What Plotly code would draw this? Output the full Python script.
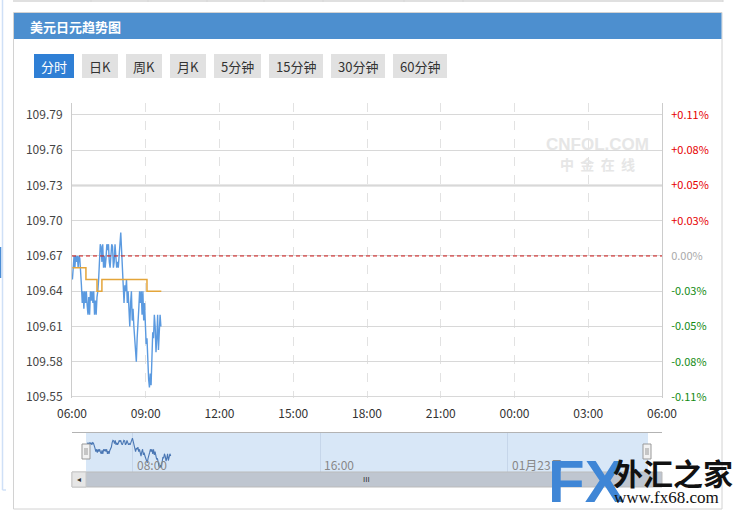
import datetime as dt
import plotly.graph_objects as go

# ---------------- data ----------------
title_text = "美元日元趋势图"
button_labels = ["分时", "日K", "周K", "月K", "5分钟", "15分钟", "30分钟", "60分钟"]

day = "2018-01-22"
next_day = "2018-01-23"

# minute-of-session (minutes after 06:00) for the intraday price series
price_minutes = list(range(1, 218, 2))
prices = [
    109.650, 109.665, 109.670, 109.660, 109.670, 109.665, 109.670, 109.660, 109.670, 109.668,
    109.660,
    109.645, 109.630, 109.640, 109.625, 109.640, 109.630, 109.640, 109.628, 109.620, 109.635,
    109.620, 109.640, 109.632, 109.640, 109.630, 109.640, 109.620, 109.632, 109.620, 109.635,
    109.640,
    109.650, 109.670, 109.680, 109.678, 109.665, 109.680, 109.660, 109.670, 109.660, 109.668,
    109.680, 109.675, 109.680, 109.665, 109.660, 109.670, 109.680, 109.678, 109.660, 109.665,
    109.680, 109.670, 109.660, 109.665, 109.660, 109.670, 109.682, 109.690, 109.675, 109.660,
    109.645,
    109.630, 109.645, 109.640, 109.650, 109.630, 109.640, 109.620, 109.610, 109.630, 109.640,
    109.615, 109.625, 109.610, 109.600, 109.585, 109.580, 109.600, 109.620, 109.625, 109.640,
    109.630, 109.640, 109.620, 109.640, 109.615, 109.630, 109.610, 109.595, 109.600, 109.575,
    109.565, 109.558, 109.570, 109.560, 109.590, 109.605, 109.600, 109.620, 109.610, 109.588,
    109.600, 109.620, 109.590, 109.612, 109.620, 109.610,
]

avg_times = ["06:01", "06:34", "07:01", "07:13", "09:03", "09:38"]
avg_values = [109.66, 109.65, 109.64, 109.65, 109.64, 109.64]

left_ticks = [109.55, 109.58, 109.61, 109.64, 109.67, 109.70, 109.73, 109.76, 109.79]
right_labels = ["-0.11%", "-0.08%", "-0.05%", "-0.03%", "0.00%",
                "+0.03%", "+0.05%", "+0.08%", "+0.11%"]
prev_close = 109.67
x_tick_labels = ["06:00", "09:00", "12:00", "15:00", "18:00", "21:00", "00:00", "03:00", "06:00"]
nav_labels = [("08:00", f"{day} 08:00"), ("16:00", f"{day} 16:00"), ("01月23日", f"{next_day} 00:00")]

# ---------------- helpers ----------------
W, H = 739, 513
FONT = "Noto Sans CJK SC, Noto Sans, Liberation Sans, sans-serif"


def fx(p):
    return p / W


def fy(p):
    return 1 - p / H


start = dt.datetime(2018, 1, 22, 6, 0)
price_times = [start + dt.timedelta(minutes=m) for m in price_minutes]
avg_x = [f"{day} {t}:00" for t in avg_times]
x_range = [f"{day} 06:00", f"{next_day} 06:00"]
x_tickvals = [start + dt.timedelta(hours=3 * i) for i in range(len(x_tick_labels))]

y_range = [109.5491, 109.8002]


def color_pct(s):
    if s.startswith("+"):
        c = "#e60000"
    elif s.startswith("-"):
        c = "#138a13"
    else:
        c = "#aaaaaa"
    return f"<span style='color:{c}'>{s}</span>"


fig = go.Figure()

fig.add_trace(go.Scatter(x=price_times, y=prices, mode="lines",
                         line=dict(color="#5b9ae0", width=1.4),
                         xaxis="x", yaxis="y", hoverinfo="skip", showlegend=False))
fig.add_trace(go.Scatter(x=avg_x, y=avg_values, mode="lines", line_shape="hv",
                         line=dict(color="#e4a53a", width=1.5),
                         xaxis="x", yaxis="y", hoverinfo="skip", showlegend=False))
# invisible trace to anchor the right-hand percent axis
fig.add_trace(go.Scatter(x=[price_times[0]], y=[prev_close], mode="markers",
                         marker=dict(opacity=0), xaxis="x", yaxis="y2",
                         hoverinfo="skip", showlegend=False))
# navigator series
fig.add_trace(go.Scatter(x=price_times, y=prices, mode="lines",
                         line=dict(color="#4a77b4", width=1.1),
                         xaxis="x3", yaxis="y3", hoverinfo="skip", showlegend=False))

shapes = []
annotations = []

# outer page decorations
shapes.append(dict(type="line", xref="paper", yref="paper", x0=fx(13), x1=fx(723), y0=fy(1), y1=fy(1),
                   line=dict(color="#d6d6d6", width=1.5)))
for vx in [91, 148, 207, 264, 323, 404, 463, 723]:
    shapes.append(dict(type="line", xref="paper", yref="paper", x0=fx(vx), x1=fx(vx), y0=fy(0), y1=fy(2),
                       line=dict(color="#d6d6d6", width=1)))
shapes.append(dict(type="line", xref="paper", yref="paper", x0=fx(2.5), x1=fx(2.5), y0=fy(0), y1=fy(490),
                   line=dict(color="#cfe0f7", width=1.5)))
shapes.append(dict(type="line", xref="paper", yref="paper", x0=fx(2.5), x1=fx(6), y0=fy(490), y1=fy(490),
                   line=dict(color="#cfe0f7", width=1.5)))
shapes.append(dict(type="line", xref="paper", yref="paper", x0=fx(0.5), x1=fx(0.5), y0=fy(247), y1=fy(278),
                   line=dict(color="#4a8dd6", width=1.5)))

# panel border and title bar
shapes.append(dict(type="rect", xref="paper", yref="paper", x0=fx(13.5), x1=fx(722), y0=fy(12.5), y1=fy(509),
                   line=dict(color="#d2d2d2", width=1), fillcolor="rgba(0,0,0,0)", layer="below"))
shapes.append(dict(type="rect", xref="paper", yref="paper", x0=fx(14), x1=fx(721.5), y0=fy(13), y1=fy(39),
                   line=dict(width=0), fillcolor="#4d8fcf", layer="below"))
annotations.append(dict(x=fx(28), y=fy(26), xref="paper", yref="paper", text=f"<b>{title_text}</b>",
                        showarrow=False, xanchor="left", yanchor="middle",
                        font=dict(family=FONT, size=13, color="white")))

# buttons
button_spans = [(34, 74), (82, 118), (126, 162), (170, 206), (214, 261), (269, 323), (331, 385), (393, 447)]
for i, (lab, (bx0, bx1)) in enumerate(zip(button_labels, button_spans)):
    active = i == 0
    shapes.append(dict(type="rect", xref="paper", yref="paper", x0=fx(bx0), x1=fx(bx1), y0=fy(54), y1=fy(78),
                       line=dict(width=0), fillcolor="#2f7fd5" if active else "#e1e1e1", layer="below"))
    annotations.append(dict(x=fx((bx0 + bx1) / 2), y=fy(66), xref="paper", yref="paper", text=lab,
                            showarrow=False, xanchor="center", yanchor="middle",
                            font=dict(family=FONT, size=13, color="white" if active else "#333333")))

# thicker line at 109.73 (as in reference)
shapes.append(dict(type="line", xref="x", yref="y", x0=x_range[0], x1=x_range[1], y0=109.73, y1=109.73,
                   line=dict(color="#d0d0d0", width=2), layer="below"))
# previous close dashed line
shapes.append(dict(type="line", xref="x", yref="y", x0=x_range[0], x1=x_range[1], y0=prev_close, y1=prev_close,
                   line=dict(color="#cc1111", width=1, dash="4px,3px")))

# CNFOL watermark
annotations.append(dict(x=fx(597), y=fy(144), xref="paper", yref="paper", text="<b>CNFOL.COM</b>",
                        showarrow=False, xanchor="center", yanchor="middle",
                        font=dict(family="Liberation Sans", size=17, color="#e6e6e6")))
annotations.append(dict(x=fx(597), y=fy(164), xref="paper", yref="paper", text="<b>中  金  在  线</b>",
                        showarrow=False, xanchor="center", yanchor="middle",
                        font=dict(family=FONT, size=14, color="#e6e6e6")))

# navigator
shapes.append(dict(type="rect", xref="paper", yref="paper", x0=fx(86), x1=fx(648), y0=fy(432), y1=fy(472),
                   line=dict(width=0), fillcolor="#d8e7f7", layer="below"))
shapes.append(dict(type="line", xref="paper", yref="paper", x0=fx(72), x1=fx(662), y0=fy(432.5), y1=fy(432.5),
                   line=dict(color="#b3b3b3", width=1)))
# scrollbar
shapes.append(dict(type="rect", xref="paper", yref="paper", x0=fx(72), x1=fx(662), y0=fy(472), y1=fy(487),
                   line=dict(color="#bbbbbb", width=1), fillcolor="#bfc6d0"))
shapes.append(dict(type="rect", xref="paper", yref="paper", x0=fx(72), x1=fx(86), y0=fy(472), y1=fy(487),
                   line=dict(color="#c8c8c8", width=1), fillcolor="#e6e6e6"))
annotations.append(dict(x=fx(79), y=fy(479.5), xref="paper", yref="paper", text="◂",
                        showarrow=False, xanchor="center", yanchor="middle",
                        font=dict(family="DejaVu Sans", size=8, color="#333333")))
annotations.append(dict(x=fx(366), y=fy(479.5), xref="paper", yref="paper", text="III",
                        showarrow=False, xanchor="center", yanchor="middle",
                        font=dict(family="Liberation Sans", size=8, color="#333333")))
# handles
for hx in (82, 643):
    shapes.append(dict(type="rect", xref="paper", yref="paper", x0=fx(hx), x1=fx(hx + 8), y0=fy(444), y1=fy(459),
                       line=dict(color="#999999", width=1), fillcolor="#f2f2f2"))
    for lx in (hx + 3, hx + 5):
        shapes.append(dict(type="line", xref="paper", yref="paper", x0=fx(lx), x1=fx(lx), y0=fy(448), y1=fy(455),
                           line=dict(color="#999999", width=1)))
for lab, t in nav_labels:
    annotations.append(dict(x=t, y=fy(464), xref="x3", yref="paper", text=lab, showarrow=False,
                            xanchor="left", yanchor="middle", xshift=2,
                            font=dict(family=FONT, size=12, color="#888888")))

# FX68 watermark
annotations.append(dict(x=fx(546), y=fy(481), xref="paper", yref="paper", text="<b>FX</b>",
                        showarrow=False, xanchor="left", yanchor="middle",
                        font=dict(family="Liberation Sans", size=60, color="#3f86d6")))
annotations.append(dict(x=fx(611), y=fy(472), xref="paper", yref="paper", text="<b>外汇之家</b>",
                        showarrow=False, xanchor="left", yanchor="middle",
                        font=dict(family=FONT, size=30, color="#111111")))
annotations.append(dict(x=fx(612), y=fy(497), xref="paper", yref="paper", text="www.fx68.com",
                        showarrow=False, xanchor="left", yanchor="middle",
                        font=dict(family="Liberation Serif", size=17, color="#111111")))

fig.update_layout(
    template="none",
    width=W, height=H, autosize=False,
    margin=dict(l=0, r=0, t=0, b=0, pad=0),
    paper_bgcolor="white", plot_bgcolor="rgba(0,0,0,0)",
    showlegend=False,
    font=dict(family=FONT, size=12, color="#333333"),
    xaxis=dict(domain=[fx(72), fx(662)], anchor="y", type="date", range=x_range, automargin=False,
               tickvals=x_tickvals, ticktext=x_tick_labels,
               showgrid=True, gridcolor="#e2e2e2", griddash="dash", gridwidth=1,
               zeroline=False, showline=False,
               ticks="outside", ticklen=5, tickcolor="rgba(0,0,0,0)",
               tickfont=dict(family=FONT, size=12, color="#333333")),
    yaxis=dict(domain=[fy(398), fy(103)], anchor="x", range=y_range, automargin=False,
               tickvals=left_ticks, ticktext=[f"{v:.2f}" for v in left_ticks],
               showgrid=True, gridcolor="#d8d8d8", gridwidth=1, zeroline=False,
               showline=True, linecolor="#cccccc", linewidth=1,
               ticks="outside", ticklen=6, tickcolor="rgba(0,0,0,0)",
               tickfont=dict(family=FONT, size=12, color="#444444")),
    yaxis2=dict(overlaying="y", side="right", anchor="x", range=y_range, automargin=False,
                tickvals=left_ticks, ticktext=[color_pct(s) for s in right_labels],
                showgrid=False, zeroline=False,
                showline=True, linecolor="#cccccc", linewidth=1,
                ticks="outside", ticklen=6, tickcolor="rgba(0,0,0,0)",
                tickfont=dict(family=FONT, size=11)),
    xaxis3=dict(domain=[fx(86), fx(648)], anchor="y3", type="date", range=x_range, automargin=False,
                tickvals=[t for _, t in nav_labels], showticklabels=False,
                showgrid=True, gridcolor="#c6d6ea", gridwidth=1, zeroline=False, showline=False, ticks=""),
    yaxis3=dict(domain=[fy(472), fy(432)], anchor="x3", range=[109.539, 109.717], automargin=False,
                visible=False, showgrid=False),
    shapes=shapes,
    annotations=annotations,
)

fig.write_html("out.html", config={"displayModeBar": False},
               post_script="document.body.style.margin='0';")
